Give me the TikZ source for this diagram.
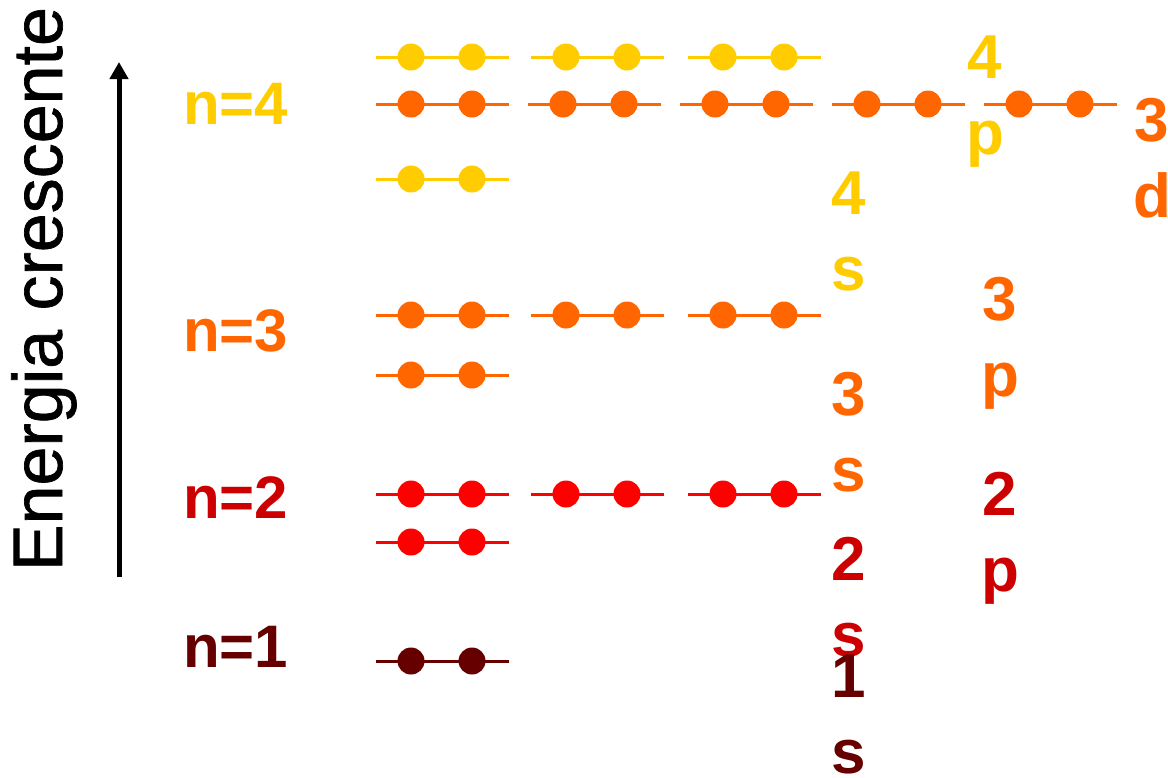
\documentclass[tikz,border=0pt]{standalone}
\usepackage{fontspec}
\setmainfont{Liberation Sans}
\newfontfamily\eixofonte[UprightFeatures={FakeBold=1}]{Liberation Sans}
\usetikzlibrary{arrows.meta}

\definecolor{amarelo}{HTML}{FFCC00}
\definecolor{laranja}{HTML}{FF6600}
\definecolor{vermelho}{HTML}{FF0000}
\definecolor{vermelhoesc}{HTML}{CC0000}
\definecolor{marrom}{HTML}{660000}

\begin{document}
\begin{tikzpicture}[
    x=1pt, y=-1pt,
    eletron/.style={circle, fill, inner sep=0pt, minimum size=27pt},
    nivel/.style={line width=3pt},
    rotulo/.style={font=\bfseries\fontsize{62}{76}\selectfont, align=center, anchor=north, inner sep=0pt},
    camada/.style={font=\bfseries\fontsize{60}{72}\selectfont, anchor=base west, inner sep=0pt},
    eixo/.style={font=\eixofonte\fontsize{70}{80}\selectfont, rotate=90, anchor=base, inner sep=0pt},
    seta/.style={line width=5pt, -{Triangle[length=17pt, width=18pt]}},
]
\useasboundingbox (0,0) rectangle (1168,777);

% orbitais: nome/x/y/cor
\foreach \nome/\xa/\ya/\cor in {
    4pa/376/57/amarelo, 4pb/531/57/amarelo, 4pc/688/57/amarelo,
    3da/376/104/laranja, 3db/528/104/laranja, 3dc/680/104/laranja, 3dd/832/104/laranja, 3de/984/104/laranja,
    4s/376/179/amarelo,
    3pa/376/315/laranja, 3pb/531/315/laranja, 3pc/688/315/laranja,
    3s/376/375/laranja,
    2pa/376/494/vermelho, 2pb/531/494/vermelho, 2pc/688/494/vermelho,
    2s/376/542/vermelho,
    1s/376/661/marrom}{
  \coordinate (\nome-l) at (\xa,\ya);
  \coordinate (\nome-r) at (\xa+133,\ya);
  \draw[nivel, \cor] (\nome-l) -- (\nome-r);
  \node[eletron, fill=\cor] (\nome-1) at (\xa+35,\ya) {};
  \node[eletron, fill=\cor] (\nome-2) at (\xa+96,\ya) {};
}

\node[rotulo, amarelo] (r4p) at (985,36) {4\\p};
\node[rotulo, laranja] (r3d) at (1152,98) {3\\d};
\node[rotulo, amarelo] (r4s) at (849,172) {4\\s};
\node[rotulo, laranja] (r3p) at (1000,277) {3\\p};
\node[rotulo, laranja] (r3s) at (849,372) {3\\s};
\node[rotulo, vermelhoesc] (r2p) at (1000,472) {2\\p};
\node[rotulo, vermelhoesc] (r2s) at (849,537) {2\\s};
\node[rotulo, marrom] (r1s) at (849,655) {1\\s};

\node[camada, amarelo] (n4) at (183,124) {n=4};
\node[camada, laranja] (n3) at (183,351) {n=3};
\node[camada, vermelhoesc] (n2) at (183,518) {n=2};
\node[camada, marrom] (n1) at (183,667) {n=1};

\node[eixo] (energia) at (62,289) {Energia crescente};
\coordinate (base) at (119,577);
\coordinate (topo) at (119,62);
\draw[seta] (base) -- (topo);

\end{tikzpicture}
\end{document}
